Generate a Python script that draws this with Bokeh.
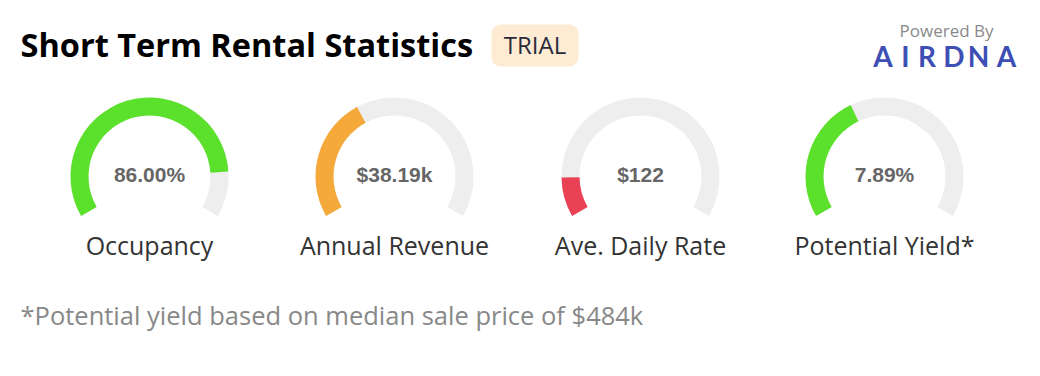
from bokeh.plotting import figure
from bokeh.models import Range1d, ColumnDataSource
from bokeh.core.properties import value
from bokeh.embed import file_html
from bokeh.resources import INLINE
import math

# ---- data ----
labels = ["Occupancy", "Annual Revenue", "Ave. Daily Rate", "Potential Yield*"]
display_values = ["86.00%", "$38.19k", "$122", "7.89%"]
values = [86.0, 38.19, 122.0, 7.89]
maxima = [100.0, 100.0, 1000.0, 20.0]
colors = ["#5BE12C", "#F5A93A", "#EA4154", "#5BE12C"]
title_text = "Short Term Rental Statistics"
badge_text = "TRIAL"
powered_text = "Powered By"
logo_letters = ["A", "I", "R", "D", "N", "A"]
footnote = "*Potential yield based on median sale price of $484k"

# ---- layout ----
W, H = 1024, 360
p = figure(width=W, height=H, output_backend="svg", toolbar_location=None,
           x_range=Range1d(0, W), y_range=Range1d(0, H),
           min_border=0, outline_line_color=None)
p.axis.visible = False
p.grid.visible = False
p.background_fill_color = "white"

def Y(py):
    return H - py

centers_x = [149, 394, 640, 884]
cy = Y(176)
r_out, r_in = 79, 61
start_deg, sweep = 210.0, 240.0

# gray tracks
p.annular_wedge(x=centers_x, y=[cy] * 4, inner_radius=r_in, outer_radius=r_out,
                inner_radius_units="screen", outer_radius_units="screen",
                start_angle=math.radians(start_deg - sweep), end_angle=math.radians(start_deg),
                direction="anticlock", fill_color="#EEEEEE", line_color=None)

# value arcs
ends = [math.radians(start_deg - sweep * v / m) for v, m in zip(values, maxima)]
src = ColumnDataSource(dict(x=centers_x, y=[cy] * 4, s=ends,
                            e=[math.radians(start_deg)] * 4, c=colors))
p.annular_wedge(x="x", y="y", inner_radius=r_in, outer_radius=r_out,
                inner_radius_units="screen", outer_radius_units="screen",
                start_angle="s", end_angle="e", direction="anticlock",
                fill_color="c", line_color=None, source=src)

# value texts
p.text(x=centers_x, y=[Y(174)] * 4, text=display_values, text_align="center",
       text_baseline="middle", text_font=value("Liberation Sans"),
       text_font_style="bold", text_font_size="21px", text_color="#666666")

# category labels
p.text(x=centers_x, y=[Y(244)] * 4, text=labels, text_align="center",
       text_baseline="middle", text_font=value("Open Sans"),
       text_font_size="25px", text_color="#333333")

# title
p.text(x=[20], y=[Y(44)], text=[title_text], text_align="left", text_baseline="middle",
       text_font=value("Open Sans"), text_font_style="bold", text_font_size="32.5px",
       text_color="#000000")

# badge
p.quad(left=[491], right=[578], top=[Y(24)], bottom=[Y(66)], fill_color="#FDEBD4",
       line_color=None, border_radius=9)
p.text(x=[534.5], y=[Y(44)], text=[badge_text], text_align="center", text_baseline="middle",
       text_font=value("Open Sans"), text_font_size="24px", text_color="#2A2A3A")

# powered by
p.text(x=[946], y=[Y(30)], text=[powered_text], text_align="center", text_baseline="middle",
       text_font=value("Open Sans"), text_font_size="17px", text_color="#8A8A8A")
logo_x = [882.5, 905, 926.5, 953.5, 978, 1006]
p.text(x=logo_x, y=[Y(55)] * len(logo_letters), text=logo_letters, text_align="center",
       text_baseline="middle", text_font=value("Lato"), text_font_style="bold",
       text_font_size="28px", text_color="#3D4FB5")

# footnote
p.text(x=[20], y=[Y(314)], text=[footnote], text_align="left", text_baseline="middle",
       text_font=value("Open Sans"), text_font_size="25.5px", text_color="#888888")

open("out.html", "w").write(file_html(p, INLINE))
